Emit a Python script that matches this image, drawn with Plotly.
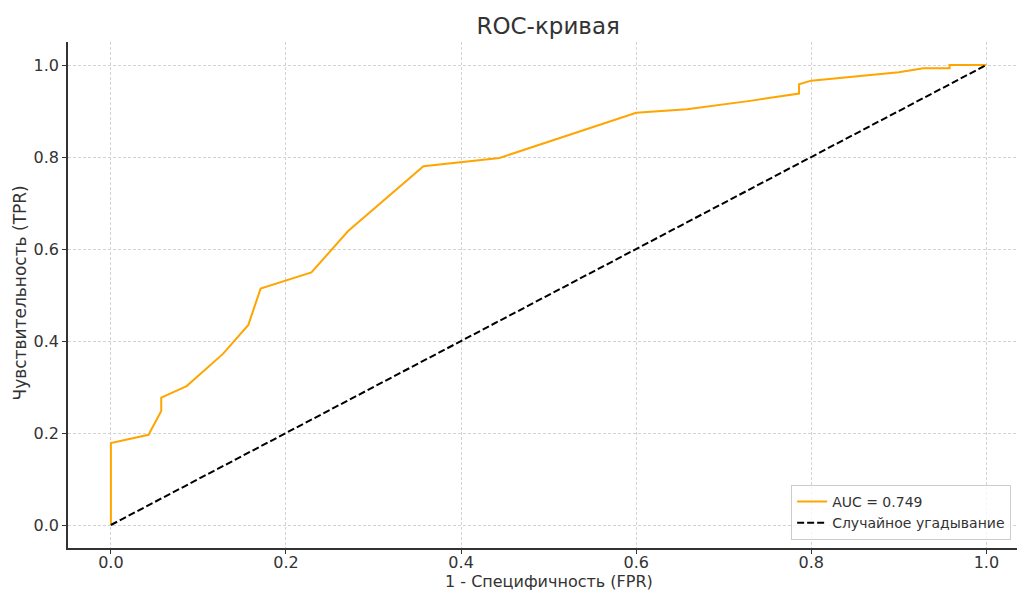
import plotly.graph_objects as go

fpr = [0.0, 0.0, 0.043, 0.0575, 0.0575, 0.0865, 0.128, 0.157, 0.171, 0.229,
       0.271, 0.357, 0.444, 0.600, 0.658, 0.730, 0.786, 0.786, 0.800, 0.840,
       0.900, 0.928, 0.958, 0.958, 1.0]
tpr = [0.0, 0.178, 0.196, 0.248, 0.277, 0.302, 0.372, 0.435, 0.514, 0.549,
       0.639, 0.780, 0.798, 0.896, 0.904, 0.922, 0.938, 0.958, 0.966, 0.973,
       0.984, 0.993, 0.993, 1.0, 1.0]
diag = [0.0, 1.0]
auc_label = "AUC = 0.749"
diag_label = "Случайное угадывание"
x_title = "1 - Специфичность (FPR)"
y_title = "Чувствительность (TPR)"
tickvals = [0.0, 0.2, 0.4, 0.6, 0.8, 1.0]
ticktext = ["0.0", "0.2", "0.4", "0.6", "0.8", "1.0"]

fig = go.Figure()
fig.add_trace(go.Scatter(x=fpr, y=tpr, mode="lines", name=auc_label,
                         line=dict(color="#FFA500", width=2)))
fig.add_trace(go.Scatter(x=diag, y=diag, mode="lines", name=diag_label,
                         line=dict(color="black", width=2, dash="7px,3px")))

axis_common = dict(
    showgrid=True, gridcolor="#d3d3d3", griddash="3px,2px", gridwidth=1,
    zeroline=False, showline=True, linecolor="#333333", linewidth=1.5,
    ticks="outside", ticklen=4, tickcolor="#333333", tickwidth=1,
    tickvals=tickvals, ticktext=ticktext, automargin=False,
    tickfont=dict(size=16, color="#333333"),
)

fig.update_layout(
    width=1017, height=590,
    margin=dict(l=68, r=0, t=42, b=42),
    paper_bgcolor="white", plot_bgcolor="white",
    font=dict(family="DejaVu Sans", color="#333333"),
    title=dict(text="ROC-кривая", x=0.539, xanchor="center", y=0.956, yanchor="middle",
               font=dict(size=23, color="#333333")),
    xaxis=dict(range=[-0.049, 1.035], ticklabelstandoff=-5, **axis_common),
    yaxis=dict(range=[-0.05, 1.05], **axis_common),
    legend=dict(x=0.762, xanchor="left", y=0.016, yanchor="bottom",
                bgcolor="rgba(255,255,255,0.8)", bordercolor="#cccccc", borderwidth=1,
                font=dict(size=14, color="#333333"), tracegroupgap=0),
    showlegend=True,
)

fig.add_annotation(text=x_title, xref="paper", yref="paper", x=0.507, y=0,
                   xanchor="center", yanchor="middle", yshift=-33, showarrow=False,
                   font=dict(size=16, color="#333333"))
fig.add_annotation(text=y_title, xref="paper", yref="paper", x=0, y=0.503,
                   xanchor="center", yanchor="middle", xshift=-48, textangle=-90,
                   showarrow=False, font=dict(size=17, color="#333333"))

fig.write_html("out.html")
